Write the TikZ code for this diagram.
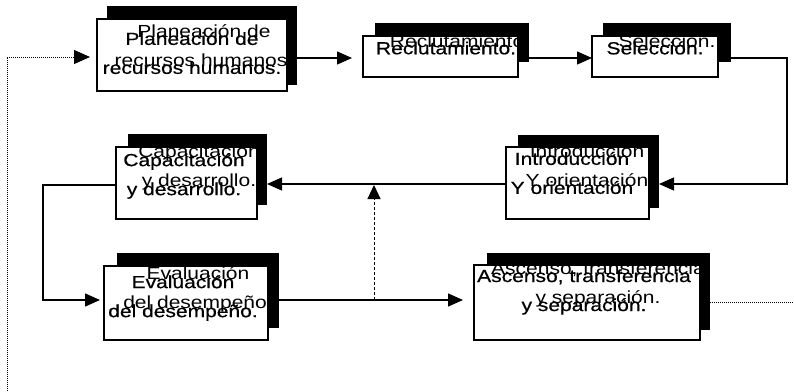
\documentclass[tikz,border=0pt]{standalone}
\usepackage{fontspec}
\newfontfamily\diagfont[FakeStretch=1.2]{Liberation Sans}
\newfontfamily\diagfontb[FakeStretch=1.2,FakeBold=0.6]{Liberation Sans}
\usetikzlibrary{arrows.meta,calc}
\begin{document}
\begin{tikzpicture}[x=1pt,y=-1pt,
  shadowbox/.style={fill=black,draw=none,inner sep=0pt,outer sep=0pt},
  frontbox/.style={fill=white,draw=black,line width=1.5pt,inner sep=0pt,outer sep=0pt},
  txt/.style={font=\diagfontb\fontsize{17.5}{29}\selectfont,align=center,inner sep=0pt,text=black},
  txtu/.style={font=\diagfont\fontsize{17.5}{29}\selectfont,align=center,inner sep=0pt,text=black},
  conn/.style={line width=1.4pt,-{Triangle[length=15pt,width=13pt]}},
  dotline/.style={line width=1pt,densely dotted},
  dashline/.style={line width=1pt,densely dashed,-{Triangle[length=14pt,width=13pt]}}]
\useasboundingbox (0,0) rectangle (794,391);
% ---------- boxes ----------
\node[shadowbox,minimum width=190pt,minimum height=79pt] (p1s) at (202,45.5) {};
\node[frontbox,minimum width=190pt,minimum height=72pt] (p1) at (192,55) {};
\node[txtu] (p1u) at (204,45.5) {Planeación de\\recursos humanos.};
\node[txt] (p1t) at (192,53) {Planeación de\\recursos humanos.};

\node[shadowbox,minimum width=154pt,minimum height=39pt] (p2s) at (452,42.5) {};
\node[frontbox,minimum width=155pt,minimum height=41pt] (p2) at (440.5,56.5) {};
\node[txtu] (p2u) at (460,41) {Reclutamiento.};
\node[txt] (p2t) at (446,48) {Reclutamiento.};

\node[shadowbox,minimum width=128pt,minimum height=39pt] (p3s) at (667,42.5) {};
\node[frontbox,minimum width=126pt,minimum height=41pt] (p3) at (655,56.5) {};
\node[txtu] (p3u) at (667,41) {Selección.};
\node[txt] (p3t) at (655,48) {Selección.};

\node[shadowbox,minimum width=141pt,minimum height=73pt] (p4s) at (588.5,171.5) {};
\node[frontbox,minimum width=143pt,minimum height=72pt] (p4) at (577.5,183) {};
\node[txtu] (p4u) at (587,165.5) {Introducción\\Y orientación};
\node[txt] (p4t) at (572,173) {Introducción\\Y orientación};

\node[shadowbox,minimum width=139pt,minimum height=71pt] (p5s) at (197.5,169.5) {};
\node[frontbox,minimum width=141pt,minimum height=72pt] (p5) at (186.5,183) {};
\node[txtu] (p5u) at (199,167.5) {Capacitación\\y desarrollo.};
\node[txt] (p5t) at (184,176) {Capacitación\\y desarrollo.};

\node[shadowbox,minimum width=162pt,minimum height=75pt] (p6s) at (198,290.5) {};
\node[frontbox,minimum width=164pt,minimum height=74pt] (p6) at (186,303) {};
\node[txtu] (p6u) at (198,289.5) {Evaluación\\del desempeño.};
\node[txt] (p6t) at (183,298) {Evaluación\\del desempeño.};

\node[shadowbox,minimum width=223pt,minimum height=77pt] (p7s) at (598.5,291.5) {};
\node[frontbox,minimum width=226pt,minimum height=75pt] (p7) at (587,302.5) {};
\node[txtu] (p7u) at (598,284) {Ascenso, transferencia\\y separación.};
\node[txt] (p7t) at (584,292) {Ascenso, transferencia\\y separación.};
% ---------- free ends / corners ----------
\coordinate (fb1) at (7,391);
\coordinate (c1) at (787,58);
\coordinate (c2) at (43,240);
\coordinate (c3) at (374,300);
\coordinate (fb2) at (794,302);
% ---------- connectors ----------
\draw[dotline,-{Triangle[length=16pt,width=14pt]}] (fb1) |- ([xshift=-7pt]p1.west |- 0,57);
\draw[conn] (p1s.east |- 0,58) -- ([xshift=-11pt]p2.west |- 0,58);
\draw[conn] (p2s.east |- 0,58) -- (p3.west |- 0,58);
\draw[conn] (p3s.east |- 0,58) -- (c1) |- (p4s.east |- 0,184);
\draw[conn] (p4.west |- 0,184) -- (p5s.east |- 0,184);
\draw[conn] (p5.west |- 0,185) -| (c2) |- ([xshift=-4pt]p6.west |- 0,300);
\draw[conn] (p6s.east |- 0,300) -- ([xshift=-11pt]p7.west |- 0,300);
\draw[dashline] (c3) -- (c3 |- 0,185);
\draw[dotline] (p7s.east |- fb2) -- (fb2);
\end{tikzpicture}
\end{document}
